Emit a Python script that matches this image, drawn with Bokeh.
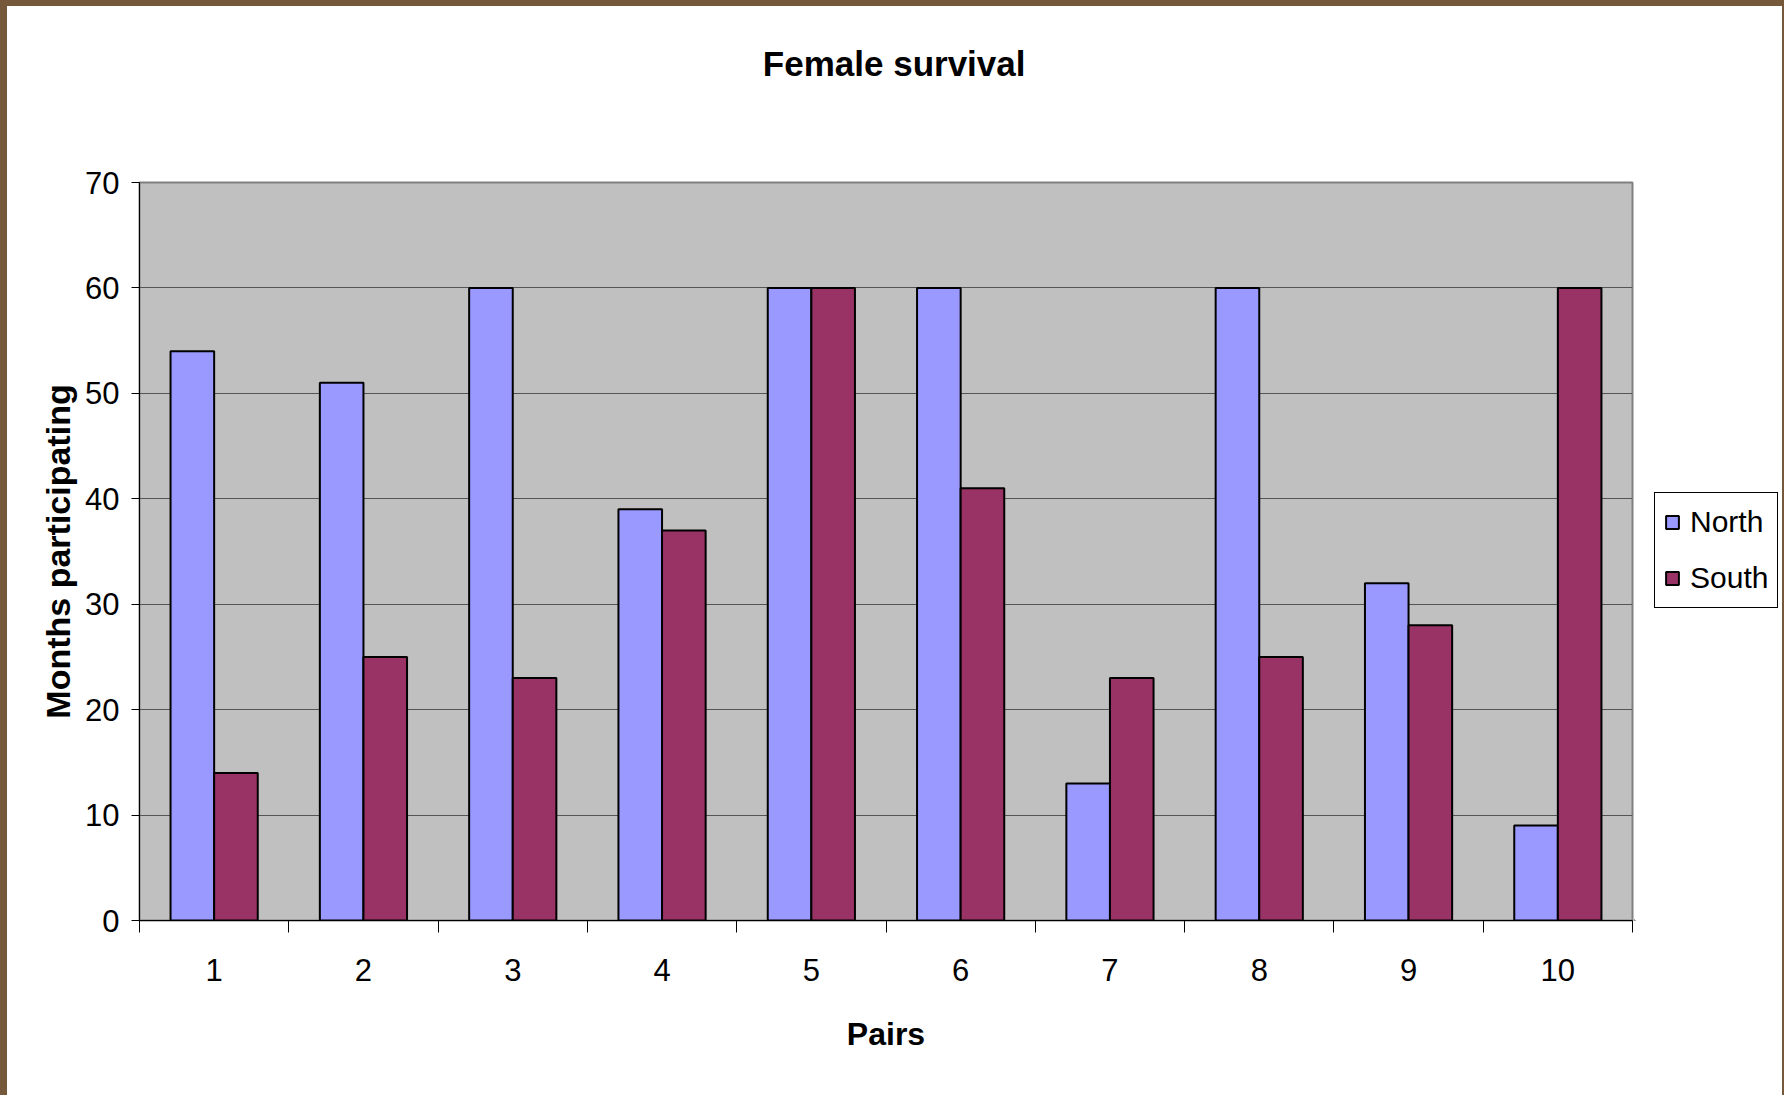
from bokeh.plotting import figure
from bokeh.models import ColumnDataSource, Range1d, FixedTicker, Legend, LegendItem, Title
from bokeh.transform import dodge
from bokeh.layouts import row
from bokeh.embed import file_html
from bokeh.resources import INLINE

# ---- data ----
pairs = [1, 2, 3, 4, 5, 6, 7, 8, 9, 10]
pair_labels = ["1", "2", "3", "4", "5", "6", "7", "8", "9", "10"]
north = [54, 51, 60, 39, 60, 60, 13, 60, 32, 9]
south = [14, 25, 23, 37, 60, 41, 23, 25, 28, 60]
y_ticks = [0, 10, 20, 30, 40, 50, 60, 70]
series_names = ["North", "South"]
series_colors = ["#9999ff", "#993366"]

FONT = "Liberation Sans, Arial, sans-serif"

src = ColumnDataSource(dict(pair=pairs, north=north, south=south))

p = figure(width=1627, height=1089,
           x_range=Range1d(0.5, 10.5), y_range=Range1d(0, 70),
           output_backend="svg", toolbar_location=None,
           min_border_left=132, min_border_right=2,
           min_border_top=176, min_border_bottom=175,
           background_fill_color="#c0c0c0", border_fill_color="white",
           outline_line_color="#808080", outline_line_width=2,
           styles={"background-color": "white"})

bw = 0.292
p.vbar(x=dodge("pair", -bw / 2, range=p.x_range), top="north", width=bw,
       source=src, fill_color=series_colors[0], line_color="black", line_width=2)
p.vbar(x=dodge("pair", bw / 2, range=p.x_range), top="south", width=bw,
       source=src, fill_color=series_colors[1], line_color="black", line_width=2)

# title (spacer nearest the frame, then the real title)
p.title.text = ""
spacer = Title(text=" ", text_font_size="10px", standoff=87)
p.add_layout(spacer, "above")
main_title = Title(text="Female survival", text_font=FONT, text_font_style="bold",
                   text_font_size="35px", text_color="black", align="right",
                   offset=607, standoff=0)
p.add_layout(main_title, "above")

# x axis
xa = p.xaxis[0]
xa.ticker = FixedTicker(ticks=pairs, minor_ticks=[x - 0.5 for x in pairs] + [pairs[-1] + 0.5])
xa.major_label_overrides = {k: v for k, v in zip(pairs, pair_labels)}
xa.major_tick_out = 0
xa.major_tick_in = 0
xa.minor_tick_out = 12
xa.minor_tick_in = 0
xa.minor_tick_line_color = "black"
xa.axis_line_color = "black"
xa.major_label_text_font = FONT
xa.major_label_text_font_size = "31px"
xa.major_label_text_color = "black"
xa.major_label_standoff = 26
xa.axis_label = "Pairs"
xa.axis_label_text_font = FONT
xa.axis_label_text_font_style = "bold"
xa.axis_label_text_font_size = "32px"
xa.axis_label_text_color = "black"
xa.axis_label_standoff = 32

# y axis
ya = p.yaxis[0]
ya.ticker = FixedTicker(ticks=y_ticks)
ya.major_tick_out = 8
ya.major_tick_in = 0
ya.minor_tick_out = 0
ya.minor_tick_in = 0
ya.major_tick_line_color = "black"
ya.axis_line_color = "black"
ya.major_label_text_font = FONT
ya.major_label_text_font_size = "31px"
ya.major_label_text_color = "black"
ya.major_label_standoff = 12
ya.axis_label = "Months participating"
ya.axis_label_text_font = FONT
ya.axis_label_text_font_style = "bold"
ya.axis_label_text_font_size = "34px"
ya.axis_label_text_color = "black"
ya.axis_label_standoff = 5

p.xgrid.visible = False
p.ygrid.ticker = FixedTicker(ticks=y_ticks)
p.ygrid.grid_line_color = "#555555"
p.ygrid.grid_line_width = 1

# legend panel (separate figure to the right of the chart)
pl = figure(width=148, height=1089, output_backend="svg", toolbar_location=None,
            x_axis_type=None, y_axis_type=None, min_border=0,
            x_range=Range1d(10, 11), y_range=Range1d(10, 11),
            outline_line_color=None, border_fill_color="white",
            background_fill_color="white",
            styles={"background-color": "white"})
pl.xgrid.visible = False
pl.ygrid.visible = False
# one off-screen bar per series, only so that the legend has glyphs to show
leg_n = pl.vbar(x=[0], top=[0], width=0.1, fill_color=series_colors[0], line_color="black", line_width=2)
leg_s = pl.vbar(x=[0], top=[0], width=0.1, fill_color=series_colors[1], line_color="black", line_width=2)

legend = Legend(items=[LegendItem(label=series_names[0], renderers=[leg_n]),
                       LegendItem(label=series_names[1], renderers=[leg_s])],
                location=(20, 312),
                border_line_color="black", border_line_width=1, border_line_alpha=1,
                background_fill_color="white", background_fill_alpha=1,
                label_text_font=FONT, label_text_font_size="30px",
                label_text_color="black",
                glyph_width=16, glyph_height=16, label_height=40,
                label_standoff=10, spacing=16, padding=9, margin=0)
pl.add_layout(legend)

layout = row(p, pl, styles={"background-color": "#76583a",
                            "padding": "6px 2px 0px 7px"})

open("out.html", "w").write(file_html(layout, INLINE))
